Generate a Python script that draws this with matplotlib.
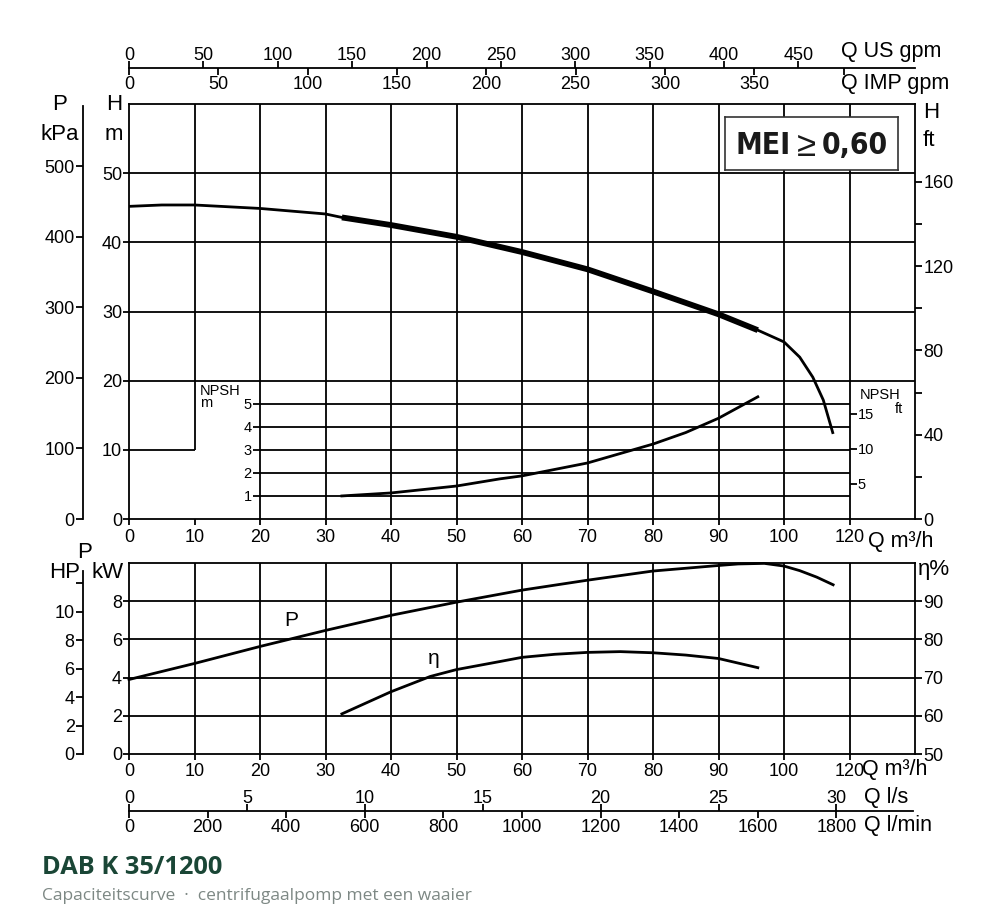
import matplotlib
matplotlib.use("Agg")
import matplotlib.pyplot as plt
import numpy as np

plt.rcParams['font.family'] = ['Liberation Sans', 'DejaVu Sans']

# ---------------- data ----------------
q_ticks = [0, 10, 20, 30, 40, 50, 60, 70, 80, 90, 100, 110]
q_ticklabels = ['0', '10', '20', '30', '40', '50', '60', '70', '80', '90', '100', '120']

# head curve (m) vs Q (m3/h)
q_head = [0, 5, 10, 20, 30, 32.5, 40, 50, 60, 66, 70, 80, 90, 96, 100, 102.4, 104.4, 106, 107.5]
h_head = [45.2, 45.4, 45.4, 44.9, 44.1, 43.6, 42.5, 40.8, 38.6, 37.1, 36.1, 32.9, 29.6, 27.3, 25.6, 23.4, 20.5, 17.2, 12.3]
q_best_lo, q_best_hi = 32.5, 96

# NPSH (m)
q_npsh = [32.5, 40, 50, 56.6, 60, 70, 80, 85, 90, 96]
npsh_m = [1.0, 1.13, 1.43, 1.74, 1.87, 2.43, 3.25, 3.75, 4.37, 5.3]

# Power (kW)
q_p = [0, 10, 20, 30, 40, 50, 60, 70, 80, 90, 93, 97, 100, 102.4, 105, 107.5]
p_kw = [3.9, 4.74, 5.63, 6.47, 7.26, 7.95, 8.58, 9.1, 9.58, 9.87, 9.95, 9.98, 9.84, 9.6, 9.26, 8.86]

# Efficiency (%)
q_eta = [32.5, 40, 46, 50, 56.6, 60, 65, 70, 75, 80, 85, 90, 96]
eta = [60.5, 66.3, 70.3, 72.1, 74.2, 75.3, 76.1, 76.6, 76.8, 76.5, 75.9, 75.0, 72.6]

h_ticks = [0, 10, 20, 30, 40, 50]
kpa_ticks = [0, 100, 200, 300, 400, 500]
ft_major = [0, 40, 80, 120, 160]
ft_minor = [20, 60, 100, 140]
npsh_m_ticks = [1, 2, 3, 4, 5]
npsh_ft_ticks = [5, 10, 15]
kw_ticks = [0, 2, 4, 6, 8]
hp_ticks = [0, 2, 4, 6, 8, 10, 12]
hp_ticklabels = ['0', '2', '4', '6', '8', '10', '']
eta_ticks = [50, 60, 70, 80, 90]
usgpm_ticks = [0, 50, 100, 150, 200, 250, 300, 350, 400, 450]
impgpm_ticks = [0, 50, 100, 150, 200, 250, 300, 350, 400]
impgpm_labels = ['0', '50', '100', '150', '200', '250', '300', '350', '']
ls_ticks = [0, 5, 10, 15, 20, 25, 30]
lmin_ticks = [0, 200, 400, 600, 800, 1000, 1200, 1400, 1600, 1800]

# unit conversions
M_TO_KPA = 9.80665
M_TO_FT = 1 / 0.3048
KW_TO_HP = 1 / 0.7457
USGPM = 0.2271247   # m3/h per US gpm
IMPGPM = 0.2727654  # m3/h per IMP gpm
LS = 3.6            # m3/h per l/s
LMIN = 0.06         # m3/h per l/min

QMAX = 120
HMAX = 60
KWMAX = 10

# ---------------- layout ----------------
W, H = 1000, 923
fig = plt.figure(figsize=(W / 100, H / 100), dpi=100)

def fx(px):
    return px / W

def fy(py):
    return 1 - py / H

LW_GRID = 1.3
LW_CURVE = 2.0
LW_THICK = 4.2
TICK_FS = 13
UNIT_FS = 16
K = 'black'

L, R = 129, 915
T1, B1 = 104, 519
T2, B2 = 563, 754


def dual_scale(y_px, xmax_top, ticks_top, labels_top, xmax_bot, ticks_bot, labels_bot,
               bound_top=None, pad_top=-2, pad_bot=1):
    """A horizontal line with ticks/labels above (one unit) and below (another unit)."""
    a_top = fig.add_axes([fx(L), fy(y_px), fx(R - L), 1e-4])
    a_bot = fig.add_axes([fx(L), fy(y_px), fx(R - L), 1e-4])
    a_bot.patch.set_alpha(0)
    a_top.set_xlim(0, xmax_top)
    a_bot.set_xlim(0, xmax_bot)
    for a in (a_top, a_bot):
        a.set_yticks([])
        for s in a.spines.values():
            s.set_visible(False)
    a_top.spines['top'].set_visible(True)
    a_top.spines['top'].set_linewidth(LW_GRID)
    if bound_top is not None:
        a_top.spines['top'].set_bounds(0, bound_top)
    a_top.xaxis.set_ticks_position('top')
    a_top.set_xticks(ticks_top)
    if labels_top is not None:
        a_top.set_xticklabels(labels_top)
    a_top.tick_params(axis='x', direction='out', length=5, width=LW_GRID, pad=pad_top, labelsize=TICK_FS,
                      top=True, labeltop=True, bottom=False, labelbottom=False)
    a_bot.xaxis.set_ticks_position('bottom')
    a_bot.set_xticks(ticks_bot)
    if labels_bot is not None:
        a_bot.set_xticklabels(labels_bot)
    a_bot.tick_params(axis='x', direction='out', length=5, width=LW_GRID, pad=pad_bot, labelsize=TICK_FS,
                      top=False, labeltop=False, bottom=True, labelbottom=True)
    return a_top, a_bot


# ---------------- top chart ----------------
ax1 = fig.add_axes([fx(L), fy(B1), fx(R - L), (B1 - T1) / H])
ax1.set_xlim(0, QMAX)
ax1.set_ylim(0, HMAX)
for s in ax1.spines.values():
    s.set_linewidth(LW_GRID)

for q in q_ticks[1:]:
    lo = 10 if q == 10 else 0
    ax1.vlines(q, lo, HMAX, color=K, lw=LW_GRID)
ax1.hlines(10, 0, 10, color=K, lw=LW_GRID)
for h in h_ticks[2:]:
    ax1.hlines(h, 0, QMAX, color=K, lw=LW_GRID)

ax1.set_xticks(q_ticks)
ax1.set_xticklabels(q_ticklabels)
ax1.set_yticks(h_ticks)
ax1.tick_params(axis='both', direction='out', length=4, width=LW_GRID, pad=3.5, labelsize=TICK_FS)
ax1.tick_params(axis='y', pad=1)

ax1.plot(q_head, h_head, color=K, lw=LW_CURVE, solid_capstyle='butt')
qb = [q for q in q_head if q_best_lo <= q <= q_best_hi]
hb = [h for q, h in zip(q_head, h_head) if q_best_lo <= q <= q_best_hi]
ax1.plot(qb, hb, color=K, lw=LW_THICK, solid_capstyle='butt')

ax1r = ax1.twinx()
ax1r.set_ylim(0, HMAX * M_TO_FT)
ax1r.set_yticks(ft_major)
ax1r.set_yticks(ft_minor, minor=True)
ax1r.tick_params(axis='y', which='both', direction='out', length=5, width=LW_GRID, pad=1, labelsize=TICK_FS)
for s in ax1r.spines.values():
    s.set_visible(False)

# NPSH sub-axes (Q 20..110)
x20 = L + (R - L) * 20 / QMAX
x110 = L + (R - L) * 110 / QMAX
axn = fig.add_axes([fx(x20), fy(B1), fx(x110 - x20), (B1 - T1) / H])
axn.patch.set_alpha(0)
axn.set_xlim(20, 110)
axn.set_ylim(0, HMAX * 0.3)
for s in axn.spines.values():
    s.set_visible(False)
axn.set_xticks([])
for n in npsh_m_ticks:
    axn.axhline(n, color=K, lw=LW_GRID)
axn.set_yticks(npsh_m_ticks)
axn.tick_params(axis='y', direction='out', length=5, width=LW_GRID, pad=1, labelsize=10.5)
axn.plot(q_npsh, npsh_m, color=K, lw=LW_CURVE)
axnr = axn.twinx()
axnr.set_ylim(0, HMAX * 0.3 * M_TO_FT)
axnr.set_yticks(npsh_ft_ticks)
axnr.tick_params(axis='y', direction='out', length=5, width=LW_GRID, pad=1, labelsize=10.5)
for s in axnr.spines.values():
    s.set_visible(False)

# kPa axis
axk = fig.add_axes([fx(83), fy(B1), 1e-4, (B1 - T1) / H])
axk.set_ylim(0, HMAX * M_TO_KPA)
axk.set_xticks([])
axk.set_yticks(kpa_ticks)
for k in ['top', 'right', 'bottom']:
    axk.spines[k].set_visible(False)
axk.spines['left'].set_linewidth(LW_GRID)
axk.spines['left'].set_bounds(0, 585)
axk.tick_params(axis='y', direction='out', length=5, width=LW_GRID, pad=1, labelsize=TICK_FS)

# gpm scales at top
dual_scale(68, QMAX / USGPM, usgpm_ticks, None, QMAX / IMPGPM, impgpm_ticks, impgpm_labels)

# ---------------- bottom chart ----------------
ax2 = fig.add_axes([fx(L), fy(B2), fx(R - L), (B2 - T2) / H])
ax2.set_xlim(0, QMAX)
ax2.set_ylim(0, KWMAX)
for s in ax2.spines.values():
    s.set_linewidth(LW_GRID)
for q in q_ticks[1:]:
    ax2.axvline(q, color=K, lw=LW_GRID)
for p in kw_ticks[1:]:
    ax2.axhline(p, color=K, lw=LW_GRID)
ax2.set_xticks(q_ticks)
ax2.set_xticklabels(q_ticklabels)
ax2.set_yticks(kw_ticks)
ax2.tick_params(axis='both', direction='out', length=4, width=LW_GRID, pad=2.5, labelsize=TICK_FS)
ax2.tick_params(axis='y', pad=1)
ax2.plot(q_p, p_kw, color=K, lw=LW_CURVE, clip_on=False)

ax2r = ax2.twinx()
ax2r.set_ylim(50, 100)
ax2r.set_yticks(eta_ticks)
ax2r.tick_params(axis='y', direction='out', length=5, width=LW_GRID, pad=1, labelsize=TICK_FS)
for s in ax2r.spines.values():
    s.set_visible(False)
ax2r.plot(q_eta, eta, color=K, lw=LW_CURVE)

axh = fig.add_axes([fx(83), fy(B2), 1e-4, (B2 - T2) / H])
axh.set_ylim(0, KWMAX * KW_TO_HP)
axh.set_xticks([])
axh.set_yticks(hp_ticks)
axh.set_yticklabels(hp_ticklabels)
for k in ['top', 'right', 'bottom']:
    axh.spines[k].set_visible(False)
axh.spines['left'].set_linewidth(LW_GRID)
axh.spines['left'].set_bounds(0, 12.85)
axh.tick_params(axis='y', direction='out', length=5, width=LW_GRID, pad=1, labelsize=TICK_FS)

# l/s and l/min scales
dual_scale(811, QMAX / LS, ls_ticks, None, QMAX / LMIN, lmin_ticks, None, bound_top=119.7 / LS)

# ---------------- texts ----------------
def ptext(x, y, s, size=UNIT_FS, ha='center', va='center', **kw):
    fig.text(fx(x), fy(y), s, fontsize=size, ha=ha, va=va, **kw)

ptext(60, 105, 'P')
ptext(60, 134, 'kPa')
ptext(114, 105, 'H')
ptext(114, 134, 'm')
ptext(923, 112, 'H', ha='left')
ptext(923, 140, 'ft', ha='left')
ptext(841, 52, 'Q US gpm', size=15.5, ha='left')
ptext(841, 83, 'Q IMP gpm', size=15.5, ha='left')
ptext(868, 541, 'Q m³/h', size=15.5, ha='left')
ptext(862, 770, 'Q m³/h', size=15.5, ha='left')
ptext(864, 797, 'Q l/s', size=15.5, ha='left')
ptext(864, 826, 'Q l/min', size=15.5, ha='left')
ptext(85, 553, 'P')
ptext(65, 573, 'HP')
ptext(108, 573, 'kW')
ptext(918, 570, 'η%', ha='left')
ptext(200, 391, 'NPSH', size=10.5, ha='left')
ptext(200, 403, 'm', size=10.5, ha='left')
ptext(860, 395, 'NPSH', size=10.5, ha='left')
ptext(895, 409, 'ft', size=10.5, ha='left')
ptext(291, 621, 'P', size=15)
ptext(434, 659, 'η', size=15)

# MEI box
mei_ax = fig.add_axes([fx(725), fy(170), fx(898 - 725), (170 - 117) / H])
mei_ax.set_xticks([])
mei_ax.set_yticks([])
mei_ax.set_facecolor('white')
for s in mei_ax.spines.values():
    s.set_linewidth(1.2)
    s.set_edgecolor('#333333')
narrow = ['Liberation Sans Narrow', 'DejaVu Sans']
ptext(763, 145, 'MEI', size=21.5, ha='center', fontweight='bold', family=narrow,
      fontstretch='condensed', color='#1a1a1a')
ptext(806, 146, '≥', size=25, ha='center', family=['Liberation Sans', 'DejaVu Sans'], color='#1a1a1a')
ptext(855, 145, '0,60', size=21.5, ha='center', fontweight='bold', family=narrow,
      fontstretch='condensed', color='#1a1a1a')

# title
ptext(42, 868, 'DAB K 35/1200', size=18.3, ha='left', fontweight='bold',
      family=['Open Sans', 'DejaVu Sans'], color='#1a4636')
ptext(42, 896, 'Capaciteitscurve  ·  centrifugaalpomp met een waaier', size=12.5, ha='left',
      family=['Open Sans', 'DejaVu Sans'], color='#7d8884')

fig.savefig('out.png', dpi=100)
